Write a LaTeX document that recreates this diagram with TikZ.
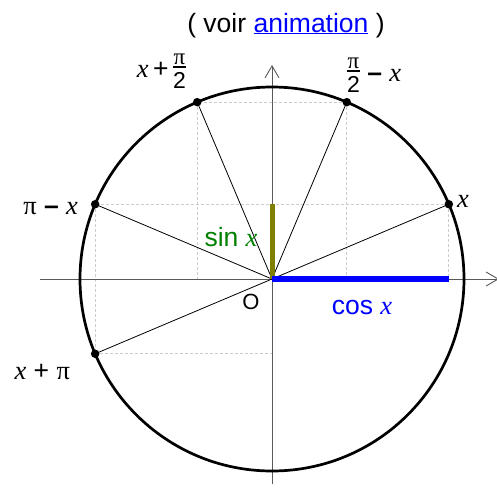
\documentclass[tikz,border=0pt]{standalone}
\usepackage{fontspec}
\setmainfont{Liberation Sans}
\newfontfamily\timesf{Liberation Serif}
\usetikzlibrary{arrows.meta}
\definecolor{olivebar}{RGB}{128,128,0}
\definecolor{sincol}{RGB}{0,128,0}
\newcommand\varx{{\timesf\itshape x}}
\newcommand\vpi{{\timesf π}}
\newcommand\mns{{\ \bfseries –\ }}
\newcommand\pitwo{\ensuremath{\vcenter{\hbox{\fontsize{23}{23}\selectfont
  \vbox{\offinterlineskip\halign{\hfil##\hfil\cr\vpi\cr\noalign{\kern1pt}\rule{13pt}{2.3pt}\cr\noalign{\kern5pt}2\cr}}}}}}
\begin{document}
\begin{tikzpicture}[x=1pt, y=1pt,
  every node/.style={font=\fontsize{26.5}{30}\selectfont, inner sep=0pt},
  axe/.style={draw=black!65, line width=0.9pt, -{Straight Barb[length=12pt, width=14pt, line width=0.9pt]}},
  proj/.style={draw=black!20, line width=0.7pt, dash pattern=on 3pt off 2pt},
  ray/.style={draw=black, line width=0.8pt},
  pnt/.style={circle, fill=black, minimum size=8.5pt, inner sep=0pt}]
\useasboundingbox (-272,-209) rectangle (225,279);
% points on the circle
\coordinate (O) at (0,0);
\coordinate (A) at (22.92:192);
\coordinate (B) at (67.08:192);
\coordinate (C) at (112.92:192);
\coordinate (D) at (157.08:192);
\coordinate (E) at (202.92:192);
% projections
\draw[proj] (A) -- (D); \draw[proj] (B) -- (C);
\draw[proj] (E) -- (E -| O);
\draw[proj] (A) -- (A |- O); \draw[proj] (B) -- (B |- O);
\draw[proj] (C) -- (C |- O); \draw[proj] (D) -- (E);
% axes
\coordinate (xl) at (-232,0); \coordinate (xr) at (227,0);
\coordinate (yb) at (0,-205); \coordinate (yt) at (0,214);
\draw[axe] (xl) -- (xr);
\draw[axe] (yb) -- (yt);
% circle and rays
\draw[line width=2.7pt] (O) circle (192);
\draw[ray] (O) -- (A); \draw[ray] (O) -- (B); \draw[ray] (O) -- (C);
\draw[ray] (O) -- (D); \draw[ray] (O) -- (E);
% sine and cosine
\draw[olivebar, line width=5pt] (O) -- (O |- A);
\draw[blue, line width=5.5pt] (O) -- (A |- O);
% dots
\node[pnt] (dA) at (A) {}; \node[pnt] (dB) at (B) {};
\node[pnt] (dC) at (C) {}; \node[pnt] (dD) at (D) {};
\node[pnt] (dE) at (E) {};
% labels
\node[anchor=west] (lA) at ([shift={(8,3)}]A) {\varx};
\node[anchor=south west] (lB) at ([shift={(0,9)}]B) {\pitwo\mns\varx};
\node[anchor=south east] (lC) at ([shift={(-11,13)}]C) {\varx\,+\,\pitwo};
\node[anchor=east] (lD) at ([shift={(-17,-4)}]D) {\vpi\mns\varx};
\node[anchor=east] (lE) at ([shift={(-25,-18)}]E) {\varx\ +\ \vpi};
\node[text=sincol] (lsin) at (-41,42) {sin \varx};
\node[text=blue] (lcos) at (90,-28) {cos \varx};
\node[font=\fontsize{22}{26}\selectfont] (lO) at (-21,-23) {O};
\node[anchor=base] (title) at (14,247) {( voir \textcolor{blue}{\underline{animation}} )};
\end{tikzpicture}
\end{document}
